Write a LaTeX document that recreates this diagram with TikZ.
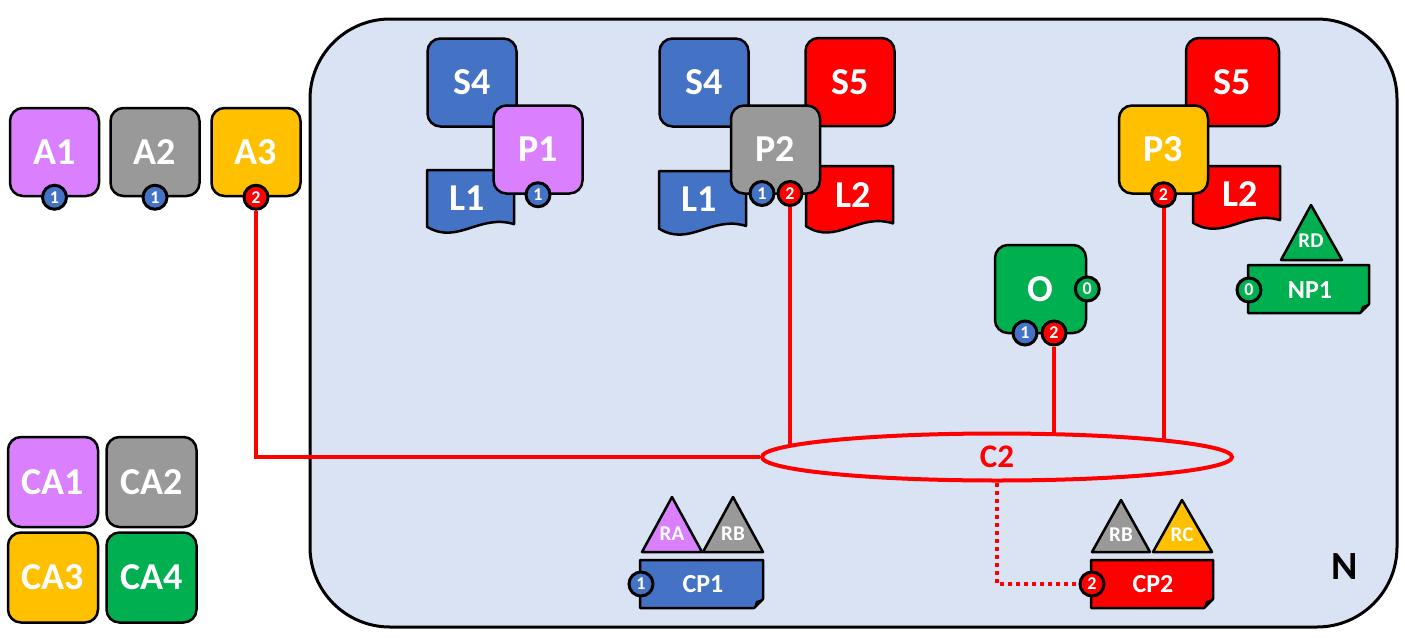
\documentclass[tikz,border=0pt]{standalone}
\usepackage{fontspec}
\setmainfont{Carlito}
\usetikzlibrary{shapes.geometric}
\definecolor{pviolet}{RGB}{218,128,255}
\definecolor{pgray}{RGB}{153,153,153}
\definecolor{pgold}{RGB}{255,192,0}
\definecolor{pblue}{RGB}{68,114,196}
\definecolor{pred}{RGB}{255,0,0}
\definecolor{pgreen}{RGB}{0,176,80}
\definecolor{netbg}{RGB}{218,227,243}
\pgfdeclarelayer{netlayer}
\pgfdeclarelayer{linklayer}
\pgfsetlayers{netlayer,linklayer,main}
% document shape: colour, x0, y0, x1, y1
\newcommand\docshape[5]{%
  \filldraw[shp,fill=#1] (#2,#3) -- (#4,#3) -- (#4,{#3+0.82*(#5-#3)})
    .. controls ({#2+0.6*(#4-#2)},{#3+0.66*(#5-#3)}) and ({#2+0.35*(#4-#2)},{#3+1.14*(#5-#3)}) ..
    (#2,{#3+0.86*(#5-#3)}) -- cycle;}
% folded-corner box: colour, x0, y0, x1, y1
\newcommand\foldbox[5]{%
  \filldraw[shp,fill=#1] (#2,#3) -- (#4,#3) -- (#4,{#5-9}) -- ({#4-9},#5) -- (#2,#5) -- cycle;
  \fill ({#4},{#5-9}) -- ({#4-9},#5) -- ({#4-7},{#5-7}) -- cycle;}

\begin{document}
\begin{tikzpicture}[x=1pt,y=-1pt,
  box/.style={rectangle,draw,line width=2.5pt,rounded corners=13pt,minimum width=89pt,minimum height=88pt,text=white,font=\bfseries\fontsize{38}{40}\selectfont},
  badge/.style={circle,draw,line width=3pt,minimum size=24pt,inner sep=0pt,text=white,font=\bfseries\fontsize{18}{18}\selectfont},
  shp/.style={draw,line width=2.5pt,line join=round},
  biglab/.style={text=white,font=\bfseries\fontsize{38}{40}\selectfont},
  midlab/.style={text=white,font=\bfseries\fontsize{26}{28}\selectfont},
  tinylab/.style={text=white,font=\bfseries\fontsize{21}{23}\selectfont},
  link/.style={draw=pred,line width=4pt}]
\useasboundingbox (0,0) rectangle (1405,637);

% network
\begin{pgfonlayer}{netlayer}
\node[draw,line width=3pt,fill=netbg,rounded corners=80pt,minimum width=1087pt,minimum height=608pt] (N) at (853.5,323) {};
\end{pgfonlayer}
\node[font=\bfseries\fontsize{40}{42}\selectfont] (Nlab) at (1345,567) {N};

% applications
\node[box,fill=pviolet] (A1) at (54.5,152) {A1};
\node[box,fill=pgray]   (A2) at (155,152) {A2};
\node[box,fill=pgold]   (A3) at (256,152) {A3};
\node[badge,fill=pblue] (A1b) at (A1.south) {1};
\node[badge,fill=pblue] (A2b) at (A2.south) {1};
\node[badge,fill=pred]  (A3b) at (A3.south) {2};

\node[box,fill=pviolet,minimum width=90pt,minimum height=90pt] (CA1) at (53,482) {CA1};
\node[box,fill=pgray,minimum width=90pt,minimum height=90pt]   (CA2) at (151.5,482) {CA2};
\node[box,fill=pgold,minimum width=90pt,minimum height=90pt]   (CA3) at (53,577.5) {CA3};
\node[box,fill=pgreen,minimum width=90pt,minimum height=90pt]  (CA4) at (151.5,577.5) {CA4};

% P1
\node[box,fill=pblue] (S4a) at (472,82.5) {S4};
\docshape{pblue}{427}{170}{514}{236}
\node[biglab] (L1a) at (467,198) {L1};
\node[box,fill=pviolet] (P1) at (538,149.5) {P1};
\node[badge,fill=pblue] (P1b) at (P1.south) {1};

% P2
\node[box,fill=pblue] (S4b) at (704,82.5) {S4};
\node[box,fill=pred]  (S5a) at (850,82) {S5};
\docshape{pblue}{659}{171}{746}{238}
\node[biglab] (L1b) at (699,199) {L1};
\docshape{pred}{806}{166}{893}{236}
\node[biglab] (L2a) at (853,195) {L2};
\node[box,fill=pgray] (P2) at (775.5,149.5) {P2};
\node[badge,fill=pblue] (P2l) at (762,193.5) {1};
\node[badge,fill=pred]  (P2r) at (790,193.5) {2};

% P3
\node[box,fill=pred,minimum width=93pt] (S5b) at (1232.5,82) {S5};
\docshape{pred}{1193}{166}{1280}{232}
\node[biglab] (L2b) at (1240,194) {L2};
\node[box,fill=pgold] (P3) at (1163.5,149.5) {P3};
\node[badge,fill=pred] (P3b) at (P3.south) {2};

% O
\node[box,fill=pgreen,minimum width=91pt] (O) at (1040.5,289) {O};
\node[badge,fill=pgreen] (O0) at (O.east) {0};
\node[badge,fill=pblue]  (O1) at (1025,333) {1};
\node[badge,fill=pred]   (O2) at (1054,333) {2};

% NP1
\filldraw[shp,fill=pgreen] (1281,260) -- (1311,205) -- (1342,260) -- cycle;
\node[tinylab] (RD) at (1311,241) {RD};
\foldbox{pgreen}{1248}{265}{1369}{313}
\node[midlab] (NP1) at (1310,290) {NP1};
\node[badge,fill=pgreen] (NP1b) at (1249,290) {0};

% CP1
\filldraw[shp,fill=pviolet] (642,552) -- (672,497) -- (702,552) -- cycle;
\node[tinylab] (RA) at (672,534) {RA};
\filldraw[shp,fill=pgray] (703,552) -- (733,497) -- (763,552) -- cycle;
\node[tinylab] (RBa) at (733,534) {RB};
\foldbox{pblue}{640}{560}{763}{608}
\node[midlab] (CP1) at (703,584) {CP1};
\node[badge,fill=pblue] (CP1b) at (641,584) {1};

% CP2
\filldraw[shp,fill=pgray] (1092,552) -- (1121,500) -- (1150,552) -- cycle;
\node[tinylab] (RBb) at (1121,535) {RB};
\filldraw[shp,fill=pgold] (1153,552) -- (1182,500) -- (1212,552) -- cycle;
\node[tinylab] (RC) at (1182,535) {RC};
\foldbox{pred}{1091}{560}{1213}{608}
\node[midlab] (CP2) at (1153,584) {CP2};
\node[badge,fill=pred] (CP2b) at (1092,584) {2};

% channel
\node[ellipse,draw=pred,line width=4pt,fill=netbg,minimum width=470pt,minimum height=47pt,text=pred,font=\bfseries\fontsize{33}{35}\selectfont] (C2) at (997,457) {C2};
\begin{pgfonlayer}{linklayer}
\draw[link] (A3b.south) |- (C2.west);
\draw[link] (P2r.south) -- (P2r.south |- C2.center);
\draw[link] (O2.south) -- (O2.south |- C2.center);
\draw[link] (P3b.south) -- (P3b.south |- C2.center);
\end{pgfonlayer}
\draw[pred,line width=3.5pt,dash pattern=on 4pt off 4pt] (C2.south) |- (CP2b.west);
\end{tikzpicture}
\end{document}
